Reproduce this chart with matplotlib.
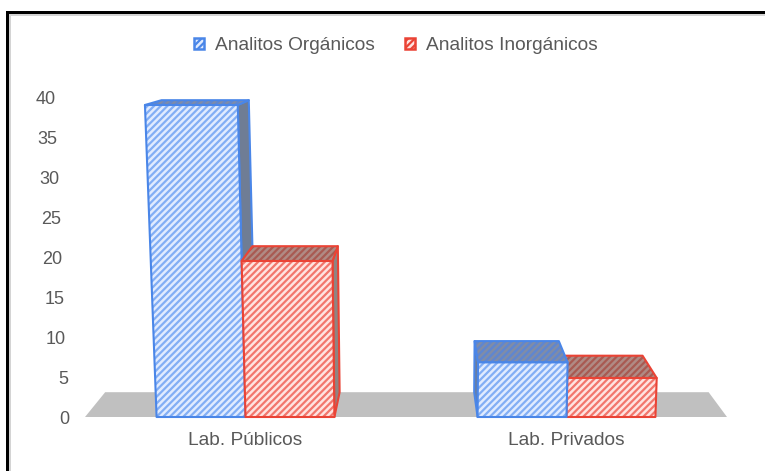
import matplotlib
matplotlib.use('Agg')
import matplotlib.pyplot as plt
from matplotlib.patches import Patch, Polygon, Rectangle
from matplotlib.transforms import ScaledTranslation

categories = ['Lab. Públicos', 'Lab. Privados']
organicos = [40, 7]
inorganicos = [20, 5]
series_names = ['Analitos Orgánicos', 'Analitos Inorgánicos']
y_ticks = [0, 5, 10, 15, 20, 25, 30, 35, 40]

plt.rcParams['font.family'] = ['Liberation Sans', 'DejaVu Sans']
plt.rcParams['hatch.linewidth'] = 1.6
GREY = '#595959'

# the fake 3d view of the original chart: all of it is in data units
BAR_W = 0.277
VP = 0.547          # x of the vanishing point
FRONT_SCALE = 0.975
LEAN = 0.0011
BACK = 0.06
HATCH = '/////'


def front(x, v):
    return x + (x - VP) * LEAN * v, v * FRONT_SCALE


def back(x, v):
    fx, fy = front(x, v)
    return fx + (VP - fx) * BACK, fy + 3.1 - 0.0625 * v


def face(ax, pts, fill, edge, hatch_col, hatch, z):
    ax.add_patch(Polygon(pts, closed=True, facecolor=fill, edgecolor='none',
                         zorder=z, clip_on=False))
    if hatch:
        ax.add_patch(Polygon(pts, closed=True, facecolor='none', edgecolor=hatch_col,
                             hatch=hatch, linewidth=0, zorder=z, clip_on=False))
    ax.add_patch(Polygon(pts, closed=True, facecolor='none', edgecolor=edge,
                         linewidth=1.5, zorder=z, clip_on=False, joinstyle='round'))


def bar3d(ax, x0, x1, v, style, z):
    # side wall first, then the top, then the front
    if back(x1, v)[0] > front(x1, v)[0]:
        face(ax, [front(x1, 0), back(x1, 0), back(x1, v), front(x1, v)],
             style['side'], style['edge'], style['top_hatch'], None, z)
    if back(x0, v)[0] < front(x0, v)[0]:
        face(ax, [front(x0, 0), back(x0, 0), back(x0, v), front(x0, v)],
             style['side'], style['edge'], style['top_hatch'], None, z)
    face(ax, [front(x0, v), back(x0, v), back(x1, v), front(x1, v)],
         style['top'], style['edge'], style['top_hatch'], HATCH, z)
    face(ax, [front(x0, 0), front(x1, 0), front(x1, v), front(x0, v)],
         style['fill'], style['edge'], style['hatch'], HATCH, z)


blue = {'fill': '#e0ebff', 'hatch': '#82aef5', 'edge': '#4a86e8',
        'top': '#7f8ca8', 'top_hatch': '#5f86d0', 'side': '#6f7d95'}
red = {'fill': '#ffe3e0', 'hatch': '#f2766c', 'edge': '#ea4335',
       'top': '#b08a84', 'top_hatch': '#a85a52', 'side': '#8f8482'}

fig = plt.figure(figsize=(7.65, 4.71), dpi=100)
ax = fig.add_axes([85 / 765, 1 - 417 / 471, 642 / 765, 320 / 471])
ax.set_xlim(-0.5, 1.5)
ax.set_ylim(0, 40)

# floor
ax.add_patch(Polygon([front(-0.5, 0), front(1.5, 0), back(1.5, 0), back(-0.5, 0)],
                     closed=True, facecolor='#c0c0c0', edgecolor='none', zorder=1,
                     clip_on=False))

# painter's order: bars further from the vanishing point go first
bars = []
for i in range(len(categories)):
    bars.append((i - BAR_W, i, organicos[i], blue))
    bars.append((i, i + BAR_W, inorganicos[i], red))
bars.sort(key=lambda b: -abs((b[0] + b[1]) / 2 - VP))
for n, (x0, x1, v, style) in enumerate(bars):
    bar3d(ax, x0, x1, v, style, 2 + n)

ax.set_xticks(range(len(categories)))
ax.set_xticklabels(categories)
ax.set_yticks(y_ticks)
ax.tick_params(length=0, labelsize=13, labelcolor=GREY)
ax.tick_params(axis='x', labelsize=13.8, pad=11)
ax.tick_params(axis='y', pad=11)
ax.patch.set_visible(False)
for s in ax.spines.values():
    s.set_visible(False)

# y labels lean to the left going up, like the back wall of the 3d view
fig.canvas.draw()
for tick, v in zip(ax.yaxis.get_major_ticks(), y_ticks):
    offset = ScaledTranslation(-0.35 * v / 100, 0, fig.dpi_scale_trans)
    tick.label1.set_transform(tick.label1.get_transform() + offset)

handles = [Patch(facecolor=blue['fill'], edgecolor=blue['edge'], hatch=HATCH, linewidth=1.8),
           Patch(facecolor=red['fill'], edgecolor=red['edge'], hatch=HATCH, linewidth=1.8)]
fig.legend(handles, series_names, loc='center', bbox_to_anchor=(396 / 765, 1 - 46 / 471),
           ncol=2, frameon=False, fontsize=13.8, labelcolor=GREY, handlelength=0.5,
           handleheight=0.5, handletextpad=0.6, columnspacing=1.55)

# black and grey edge along the top and left, from the screenshot
fig.add_artist(Rectangle((9 / 765, 0), 2 / 765, 1 - 14 / 471, transform=fig.transFigure,
                         facecolor='#d4d4d4', edgecolor='none'))
fig.add_artist(Rectangle((9 / 765, 1 - 16 / 471), 756 / 765, 2 / 471, transform=fig.transFigure,
                         facecolor='#d4d4d4', edgecolor='none'))
fig.add_artist(Rectangle((6 / 765, 0), 3 / 765, 1 - 11 / 471, transform=fig.transFigure,
                         facecolor='black', edgecolor='none'))
fig.add_artist(Rectangle((6 / 765, 1 - 14 / 471), 759 / 765, 3 / 471, transform=fig.transFigure,
                         facecolor='black', edgecolor='none'))

fig.savefig('out.png', dpi=100)
